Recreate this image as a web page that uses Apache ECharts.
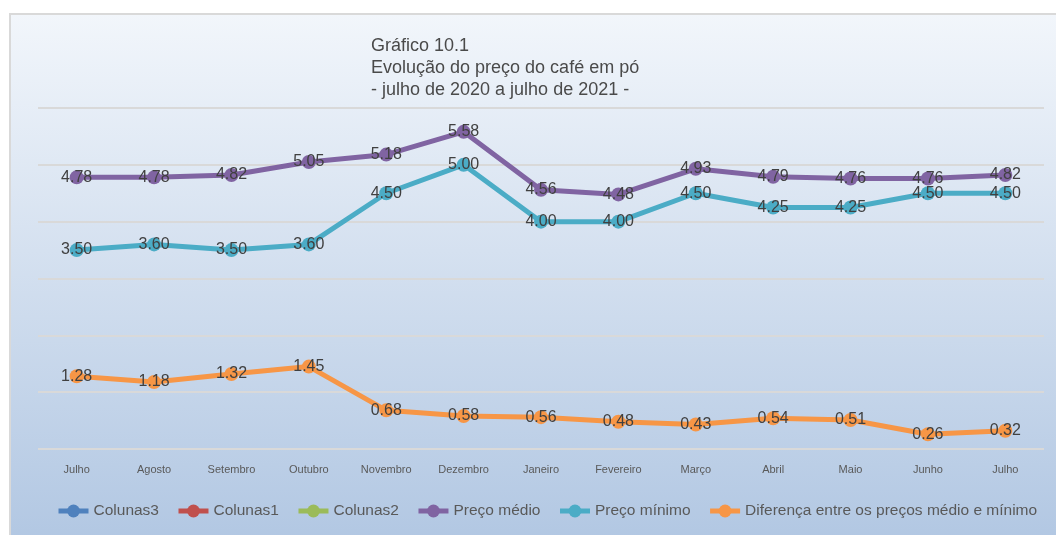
<!DOCTYPE html>
<html>
<head>
<meta charset="utf-8">
<script src="https://cdn.jsdelivr.net/npm/echarts@6/dist/echarts.min.js"></script>
<style>
  html, body { margin: 0; padding: 0; background: #fff; }
  #chart { width: 1056px; height: 535px; }
</style>
</head>
<body>
<div id="chart"></div>
<script>
var meses = ["Julho","Agosto","Setembro","Outubro","Novembro","Dezembro","Janeiro","Fevereiro","Março","Abril","Maio","Junho","Julho"];
var precoMedio = [4.78, 4.78, 4.82, 5.05, 5.18, 5.58, 4.56, 4.48, 4.93, 4.79, 4.76, 4.76, 4.82];
var precoMinimo = [3.50, 3.60, 3.50, 3.60, 4.50, 5.00, 4.00, 4.00, 4.50, 4.25, 4.25, 4.50, 4.50];
var diferenca = [1.28, 1.18, 1.32, 1.45, 0.68, 0.58, 0.56, 0.48, 0.43, 0.54, 0.51, 0.26, 0.32];
var titulo = "Gráfico 10.1\nEvolução do preço do café em pó\n- julho de 2020 a julho de 2021 -";

var fonte = 'Liberation Sans, Arial, sans-serif';
var myChart = echarts.init(document.getElementById('chart'));

// serie de linha no estilo do Excel
function linha(nome, cor, dados) {
  return {
    name: nome,
    type: 'line',
    data: dados,
    symbol: 'circle',
    symbolSize: 14,
    z: 3,
    lineStyle: { width: 5, color: cor },
    itemStyle: { color: cor },
    label: {
      show: dados.length > 0,
      position: 'inside',
      color: '#404040',
      fontSize: 16,
      fontFamily: fonte,
      formatter: function (p) { return p.value.toFixed(2); }
    },
    emphasis: { disabled: true }
  };
}

var option = {
  backgroundColor: '#fff',
  animation: false,
  graphic: [{
    type: 'rect',
    z: -10,
    shape: { x: 10, y: 14, width: 1060, height: 540 },
    style: {
      fill: new echarts.graphic.LinearGradient(0, 0, 0, 1, [
        { offset: 0, color: '#f2f6fb' },
        { offset: 1, color: '#b0c6e2' }
      ]),
      stroke: '#d9d9d9',
      lineWidth: 2
    }
  }],
  title: {
    text: titulo,
    left: 366,
    top: 30,
    textStyle: {
      color: '#4a4a4a',
      fontSize: 18,
      fontWeight: 'normal',
      lineHeight: 22,
      fontFamily: fonte
    }
  },
  legend: {
    top: 503,
    left: 56,
    width: 1300,
    padding: 0,
    itemGap: 17,
    itemWidth: 30,
    itemHeight: 16,
    lineStyle: { width: 5 },
    textStyle: { color: '#595959', fontSize: 15.5, fontFamily: fonte },
    data: ["Colunas3", "Colunas1", "Colunas2", "Preço médio", "Preço mínimo", "Diferença entre os preços médio e mínimo"]
  },
  grid: { left: 38, right: 12, top: 108, bottom: 86 },
  xAxis: {
    type: 'category',
    data: meses,
    boundaryGap: true,
    axisLine: { show: false },
    axisTick: { show: false },
    axisLabel: { color: '#595959', fontSize: 11, margin: 15, fontFamily: fonte }
  },
  yAxis: {
    type: 'value',
    min: 0,
    max: 6,
    interval: 1,
    axisLabel: { show: false },
    axisLine: { show: false },
    axisTick: { show: false },
    splitLine: { lineStyle: { color: '#d9d9d9', width: 2 } }
  },
  series: [
    linha("Colunas3", '#4f81bd', []),
    linha("Colunas1", '#c0504d', []),
    linha("Colunas2", '#9bbb59', []),
    linha("Preço médio", '#8064a2', precoMedio),
    linha("Preço mínimo", '#4bacc6', precoMinimo),
    linha("Diferença entre os preços médio e mínimo", '#f79646', diferenca)
  ]
};
myChart.setOption(option);
</script>
</body>
</html>
